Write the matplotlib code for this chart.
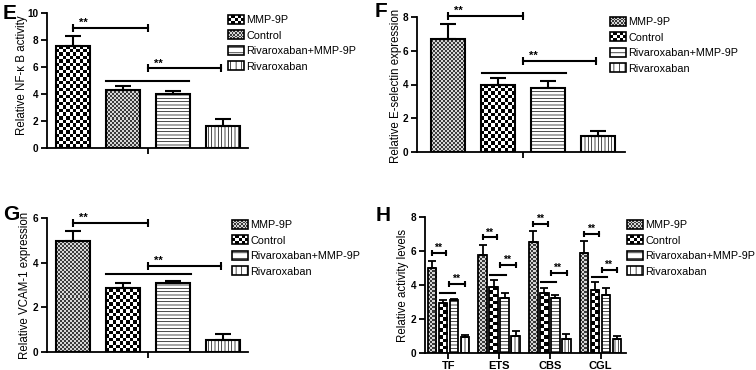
import numpy as np
import matplotlib
matplotlib.use('Agg')
import matplotlib.pyplot as plt
from matplotlib.colors import ListedColormap
from matplotlib.patches import Rectangle, Patch
from matplotlib.legend_handler import HandlerBase

plt.rcParams['font.family'] = ['Liberation Sans', 'DejaVu Sans']
plt.rcParams['hatch.linewidth'] = 0.5

groups = ['MMP-9P', 'Control', 'Rivaroxaban+MMP-9P', 'Rivaroxaban']

# panel E - NF-kB
e_vals = [7.58, 4.33, 4.03, 1.62]
e_errs = [0.72, 0.27, 0.20, 0.50]
# panel F - E-selectin
f_vals = [6.72, 4.00, 3.77, 0.97]
f_errs = [0.88, 0.40, 0.43, 0.25]
# panel G - VCAM-1
g_vals = [4.95, 2.86, 3.10, 0.55]
g_errs = [0.45, 0.24, 0.10, 0.25]
# panel H - activity levels, rows = genes, cols = groups
h_genes = ['TF', 'ETS', 'CBS', 'CGL']
h_vals = [[4.98, 2.92, 3.12, 0.95],
          [5.77, 3.88, 3.22, 1.00],
          [6.52, 3.55, 3.22, 0.85],
          [5.87, 3.72, 3.42, 0.80]]
h_errs = [[0.42, 0.20, 0.08, 0.10],
          [0.57, 0.43, 0.30, 0.30],
          [0.68, 0.25, 0.20, 0.28],
          [0.73, 0.47, 0.40, 0.20]]
h_brk1 = [5.9, 6.8, 7.6, 7.0]
h_line = [3.55, 4.6, 4.2, 4.45]
h_brk2 = [4.06, 5.18, 4.69, 4.89]

# fill styles
BIG = ('check', 3.5, 'white', 'black')
FINE = ('check', 2.0, '#d6d6d6', '#3a3a3a')
HLINE = ('hatch', '-----')
VLINE = ('hatch', '|||||')


def checker_bar(ax, bar, cell, c1, c2):
    x, w, h = bar.get_x(), bar.get_width(), bar.get_height()
    p0 = ax.transData.transform((x, 0))
    p1 = ax.transData.transform((x + w, h))
    nc = max(1, int(round((p1[0] - p0[0]) / cell)))
    nr = max(1, int(round((p1[1] - p0[1]) / cell)))
    arr = np.indices((nr, nc)).sum(axis=0) % 2
    im = ax.imshow(arr, extent=[x, x + w, 0, h], cmap=ListedColormap([c1, c2]),
                   interpolation='nearest', aspect='auto', zorder=1)
    im.set_clip_path(bar)


def draw_bars(ax, xs, vals, errs, width, styles, capsize, lw):
    for x, v, e, st in zip(xs, vals, errs, styles):
        if st[0] == 'hatch':
            b = ax.bar(x, v, width, facecolor='white', edgecolor='black',
                       hatch=st[1], linewidth=lw, zorder=2)[0]
        else:
            b = ax.bar(x, v, width, facecolor='none', edgecolor='black',
                       linewidth=lw, zorder=2)[0]
            checker_bar(ax, b, st[1], st[2], st[3])
        ax.errorbar(x, v, yerr=[[0], [e]], fmt='none', ecolor='black',
                    elinewidth=lw, capsize=capsize, capthick=lw, zorder=3)


def bracket(ax, x1, x2, y, star=True, ends=True, ms=6, fs=8, dx=0.12):
    ax.plot([x1, x2], [y, y], color='black', lw=1.5, zorder=4, clip_on=False)
    if ends:
        ax.plot([x1, x2], [y, y], ls='none', marker='|', ms=ms, mew=1.5,
                color='black', zorder=4, clip_on=False)
    if star:
        ax.text(x1 + dx, y, '**', ha='left', va='bottom', fontsize=fs,
                fontweight='bold')


class CheckerHandler(HandlerBase):
    def __init__(self, n, c1, c2):
        super().__init__()
        self.n, self.c1, self.c2 = n, c1, c2

    def create_artists(self, legend, orig_handle, xdescent, ydescent,
                       width, height, fontsize, trans):
        arts = [Rectangle((-xdescent, -ydescent), width, height,
                          facecolor=self.c1, edgecolor='none', transform=trans)]
        nc, nr = self.n
        cw, ch = width / nc, height / nr
        for i in range(nr):
            for j in range(nc):
                if (i + j) % 2:
                    arts.append(Rectangle((-xdescent + j * cw, -ydescent + i * ch),
                                          cw, ch, facecolor=self.c2,
                                          edgecolor='none', transform=trans))
        arts.append(Rectangle((-xdescent, -ydescent), width, height,
                              facecolor='none', edgecolor='black', lw=1.2,
                              transform=trans))
        return arts


def add_legend(ax, styles, anchor):
    handles, hmap = [], {}
    for st in styles:
        if st[0] == 'hatch':
            h = Patch(facecolor='white', edgecolor='black', hatch=st[1][:3], lw=1.2)
        else:
            h = Patch(facecolor='white')
            n = (5, 3) if st is BIG else (9, 5)
            hmap[h] = CheckerHandler(n, st[2], st[3])
        handles.append(h)
    ax.legend(handles, groups, handler_map=hmap, loc='upper left',
              bbox_to_anchor=anchor, bbox_transform=ax.figure.transFigure,
              frameon=False, fontsize=7.8, handlelength=1.5, handleheight=0.85,
              handletextpad=0.2, labelspacing=0.5, borderaxespad=0,
              borderpad=0)


def style_axis(ax, ylabel, ymax, ystep, lab_xy):
    for s in ['top', 'right']:
        ax.spines[s].set_visible(False)
    for s in ['left', 'bottom']:
        ax.spines[s].set_linewidth(1.3)
    ax.set_ylim(0, ymax)
    ax.set_yticks(np.arange(0, ymax + 0.01, ystep))
    ax.tick_params(width=1.3, length=4, labelsize=7.2, pad=2)
    for t in ax.get_yticklabels():
        t.set_fontweight('bold')
    ax.set_ylabel(ylabel, fontsize=8.3, va='center')
    ax.yaxis.set_label_coords(*lab_xy)


fig = plt.figure(figsize=(7.56, 3.70), dpi=100)
W, H = 756, 370


def add_ax(l, r, t, b):
    return fig.add_axes([l / W, 1 - b / H, (r - l) / W, (b - t) / H])


xs = np.arange(4)

# ---- E
axE = add_ax(47, 248, 13, 148)
axE.set_xlim(-0.52, 3.5)
style_axis(axE, 'Relative NF-κ B activity', 10, 2, (-0.124, 0.54))
draw_bars(axE, xs, e_vals, e_errs, 0.68, [BIG, FINE, HLINE, VLINE], 6, 1.5)
bracket(axE, 0, 1.5, 8.9)
bracket(axE, 1.5, 2.96, 5.9)
bracket(axE, 0.66, 2.32, 5.0, star=False, ends=False)
axE.set_xticks([1.5])
axE.set_xticklabels([''])
add_legend(axE, [BIG, FINE, HLINE, VLINE], (228 / W, 1 - 15 / H))

# ---- F
axF = add_ax(417, 625, 17, 152)
axF.set_xlim(-0.62, 3.54)
style_axis(axF, 'Relative E-selectin expression', 8, 2, (-0.1, 0.49))
draw_bars(axF, xs, f_vals, f_errs, 0.68, [FINE, BIG, HLINE, VLINE], 6, 1.5)
bracket(axF, 0, 1.5, 8.05)
bracket(axF, 1.5, 2.96, 5.4)
bracket(axF, 0.68, 2.36, 4.7, star=False, ends=False)
axF.set_xticks([1.5])
axF.set_xticklabels([''])
add_legend(axF, [FINE, BIG, HLINE, VLINE], (610 / W, 1 - 17 / H))

# ---- G
axG = add_ax(47, 248, 218, 352)
axG.set_xlim(-0.52, 3.5)
style_axis(axG, 'Relative VCAM-1 expression', 6, 2, (-0.11, 0.5))
draw_bars(axG, xs, g_vals, g_errs, 0.68, [FINE, BIG, HLINE, VLINE], 6, 1.5)
bracket(axG, 0, 1.5, 5.78)
bracket(axG, 1.5, 2.96, 3.85)
bracket(axG, 0.66, 2.36, 3.5, star=False, ends=False)
axG.set_xticks([1.5])
axG.set_xticklabels([''])
add_legend(axG, [FINE, BIG, HLINE, VLINE], (232 / W, 1 - 220 / H))

# ---- H
axH = add_ax(425, 626, 217, 353)
axH.set_xlim(-0.46, 3.5)
style_axis(axH, 'Relative activity levels', 8, 2, (-0.11, 0.5))
offs = (np.arange(4) - 1.5) * 0.217
for gi in range(4):
    draw_bars(axH, gi + offs, h_vals[gi], h_errs[gi], 0.164,
              [FINE, BIG, HLINE, VLINE], 3, 1.3)
    bracket(axH, gi - 0.325, gi - 0.04, h_brk1[gi], ms=5, fs=7.5, dx=0.05)
    bracket(axH, gi - 0.17, gi + 0.13, h_line[gi], star=False, ends=False)
    bracket(axH, gi + 0.02, gi + 0.33, h_brk2[gi], ms=5, fs=7.5, dx=0.05)
axH.set_xticks(np.arange(4))
axH.set_xticklabels(h_genes, fontweight='bold', fontsize=8)
add_legend(axH, [FINE, BIG, HLINE, VLINE], (627 / W, 1 - 220 / H))

for ax in [axE, axF, axG, axH]:
    ax.set_ylim(0, ax.get_yticks()[-1])

# panel letters
for lab, x, y in [('E', 3, 4), ('F', 375, 2), ('G', 3, 205), ('H', 376, 206)]:
    fig.text(x / W, 1 - y / H, lab, fontsize=15, fontweight='bold',
             ha='left', va='top')

fig.savefig('out.png', dpi=100)
